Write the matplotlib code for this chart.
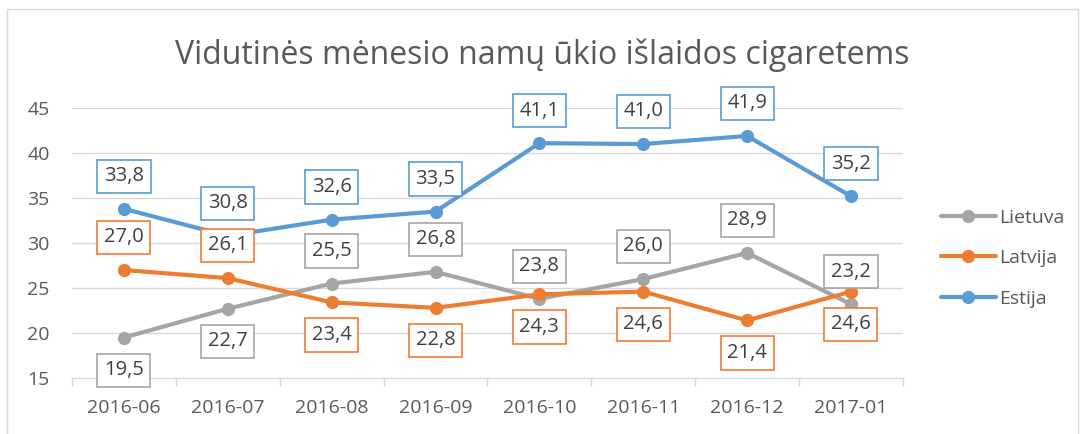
import matplotlib.pyplot as plt
from matplotlib.patches import Rectangle

plt.rcParams["font.family"] = ["Open Sans", "DejaVu Sans"]

months = ["2016-06", "2016-07", "2016-08", "2016-09", "2016-10", "2016-11", "2016-12", "2017-01"]
lietuva = [19.5, 22.7, 25.5, 26.8, 23.8, 26.0, 28.9, 23.2]
latvija = [27.0, 26.1, 23.4, 22.8, 24.3, 24.6, 21.4, 24.6]
estija = [33.8, 30.8, 32.6, 33.5, 41.1, 41.0, 41.9, 35.2]

# label placement: +1 above the point, -1 below
lietuva_pos = [-1, -1, 1, 1, 1, 1, 1, 1]
latvija_pos = [1, 1, -1, -1, -1, -1, -1, -1]
estija_pos = [1] * 8

series = [
    ("Lietuva", lietuva, lietuva_pos, "#A5A5A5"),
    ("Latvija", latvija, latvija_pos, "#ED7D31"),
    ("Estija", estija, estija_pos, "#5B9BD5"),
]

text_color = "#595959"
grid_color = "#D9D9D9"

fig = plt.figure(figsize=(10.89, 4.34), dpi=100)
ax = fig.add_axes([0.0661, 0.129, 0.763, 0.622])

# outer chart border
fig.patches.append(Rectangle((7 / 1089, -0.05), 1071 / 1089, 1.05 - 9 / 434,
                             transform=fig.transFigure, fill=False,
                             edgecolor="#D9D9D9", linewidth=1))

x = list(range(len(months)))
for name, vals, pos, color in series:
    ax.plot(x, vals, color=color, linewidth=3, marker="o", markersize=8.5,
            solid_capstyle="round", label=name, zorder=3)

for name, vals, pos, color in series:
    for xi, v, p in zip(x, vals, pos):
        ax.annotate(f"{v:.1f}".replace(".", ","), (xi, v),
                    xytext=(0, 23.5 * p), textcoords="offset points",
                    ha="center", va="center", fontsize=14.5, color="#404040",
                    bbox=dict(boxstyle="square,pad=0.33", fc="white", ec=color, lw=1.2),
                    zorder=5)

ax.set_xlim(-0.5, len(months) - 0.5)
ax.set_ylim(15, 45)
ax.set_yticks([15, 20, 25, 30, 35, 40, 45])
ax.set_xticks(x)
ax.set_xticklabels(months)
ax.set_xticks([i - 0.5 for i in range(len(months) + 1)], minor=True)
ax.tick_params(axis="x", which="major", length=0, pad=15, labelsize=14, colors=text_color)
ax.tick_params(axis="x", which="minor", length=6, color=grid_color, width=1)
ax.tick_params(axis="y", length=0, pad=16, labelsize=14, colors=text_color)
ax.yaxis.grid(True, color=grid_color, linewidth=1)
ax.set_axisbelow(True)
for s in ["top", "right", "left"]:
    ax.spines[s].set_visible(False)
ax.spines["bottom"].set_color(grid_color)

fig.text(0.498, 0.872, "Vidutinės mėnesio namų ūkio išlaidos cigaretems",
         ha="center", va="center", fontsize=23, color=text_color)

ax.legend(loc="center left", bbox_to_anchor=(1.025, 0.444), frameon=False,
          fontsize=14, labelcolor=text_color, handlelength=2.8,
          handletextpad=0.2, labelspacing=1.15)

fig.savefig("out.png", dpi=100)
